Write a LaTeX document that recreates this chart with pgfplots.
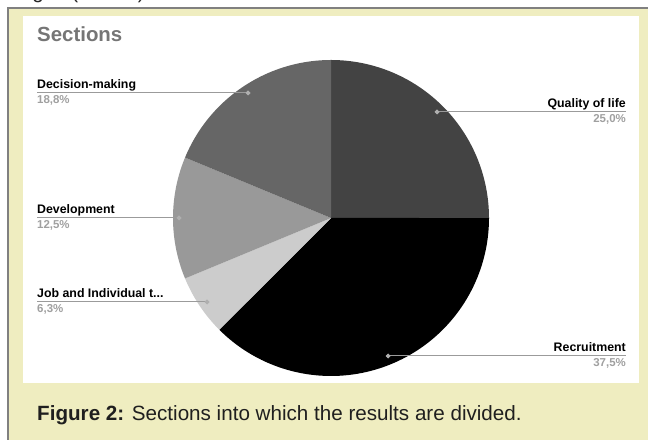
\documentclass[border=0pt]{standalone}
\usepackage{pgfplots}
\pgfplotsset{compat=1.18}
\usepackage{pgfplotstable}
\usepackage{fontspec}
\setmainfont{Liberation Sans}
\definecolor{bgyellow}{RGB}{239,237,192}
\definecolor{bordergray}{RGB}{128,128,128}
\definecolor{cQ}{RGB}{67,67,67}
\definecolor{cR}{RGB}{0,0,0}
\definecolor{cJ}{RGB}{204,204,204}
\definecolor{cD}{RGB}{153,153,153}
\definecolor{cM}{RGB}{102,102,102}
\definecolor{titlegray}{RGB}{117,117,117}
\definecolor{pctgray}{RGB}{160,160,160}
\definecolor{leadgray}{RGB}{155,155,155}
\definecolor{dotgray}{RGB}{175,175,175}
% slice values (percent), clockwise from 12 o'clock
\pgfmathsetmacro\vQ{25}
\pgfmathsetmacro\vR{37.5}
\pgfmathsetmacro\vJ{6.25}
\pgfmathsetmacro\vD{12.5}
\pgfmathsetmacro\vM{18.75}
\pgfmathsetmacro\aA{90}
\pgfmathsetmacro\aB{\aA-3.6*\vQ}
\pgfmathsetmacro\aC{\aB-3.6*\vR}
\pgfmathsetmacro\aD{\aC-3.6*\vJ}
\pgfmathsetmacro\aE{\aD-3.6*\vD}
\pgfmathsetmacro\aF{\aE-3.6*\vM}
\newcommand\lab{\fontsize{12.4}{14}\selectfont\bfseries}
\newcommand\pct{\fontsize{11.5}{14}\selectfont\bfseries\color{pctgray}}
\begin{document}
\begin{tikzpicture}[x=1bp,y=1bp]
\useasboundingbox (0,0) rectangle (648,440);
\fill[white] (0,0) rectangle (648,440);
\begin{scope}
\clip (0,0) rectangle (648,440);
\node[anchor=base east, font=\fontsize{20.7}{24}\selectfont, text=black!85, inner sep=0pt] at (145,441) {ages (0 - 4\%)};
\end{scope}
\fill[bgyellow] (8,0) rectangle (648,432);
\draw[bordergray, line width=1.6bp] (8,0) -- (8,432.2) -- (648,432.2);
\fill[white] (23,57) rectangle (639,424);
\node[anchor=base west, inner sep=0pt, font=\fontsize{20.7}{24}\selectfont, text=black!88] at (37,19) {\textbf{Figure 2:} Sections into which the results are divided.};
\begin{axis}[at={(0,0)}, anchor=south west, scale only axis, width=648bp, height=440bp,
  xmin=0, xmax=648, ymin=0, ymax=440, hide axis, clip=false]
% pie slices (centre 331,222 ; radius 158)
\addplot[draw=none, fill=cQ, domain=\aB:\aA, samples=60, variable=\t] ({331+158*cos(t)},{222+158*sin(t)}) -- (axis cs:331,222) -- cycle;
\addplot[draw=none, fill=cR, domain=\aC:\aB, samples=80, variable=\t] ({331+158*cos(t)},{222+158*sin(t)}) -- (axis cs:331,222) -- cycle;
\addplot[draw=none, fill=cJ, domain=\aD:\aC, samples=20, variable=\t] ({331+158*cos(t)},{222+158*sin(t)}) -- (axis cs:331,222) -- cycle;
\addplot[draw=none, fill=cD, domain=\aE:\aD, samples=40, variable=\t] ({331+158*cos(t)},{222+158*sin(t)}) -- (axis cs:331,222) -- cycle;
\addplot[draw=none, fill=cM, domain=\aF:\aE, samples=50, variable=\t] ({331+158*cos(t)},{222+158*sin(t)}) -- (axis cs:331,222) -- cycle;
% leader lines
\addplot[leadgray, line width=1bp, mark=*, mark size=1.8bp, mark options={draw=dotgray, fill=dotgray}, mark indices={1}] coordinates {(248,347) (37,347)};
\addplot[leadgray, line width=1bp, mark=*, mark size=1.8bp, mark options={draw=dotgray, fill=dotgray}, mark indices={1}] coordinates {(179,222) (37,222)};
\addplot[leadgray, line width=1bp, mark=*, mark size=1.8bp, mark options={draw=dotgray, fill=dotgray}, mark indices={1}] coordinates {(207,138) (37,138)};
\addplot[leadgray, line width=1bp, mark=*, mark size=1.8bp, mark options={draw=dotgray, fill=dotgray}, mark indices={1}] coordinates {(437,328) (626,328)};
\addplot[leadgray, line width=1bp, mark=*, mark size=1.8bp, mark options={draw=dotgray, fill=dotgray}, mark indices={1}] coordinates {(388,84) (626,84)};
% labels
\node[anchor=base west, inner sep=0pt, font=\fontsize{20.5}{24}\selectfont\bfseries, text=titlegray] at (axis cs:37,398) {Sections};
\node[anchor=base west, inner sep=0pt, font=\lab] at (axis cs:37,351) {Decision-making};
\node[anchor=base west, inner sep=0pt, font=\pct] at (axis cs:37,336) {18,8\%};
\node[anchor=base west, inner sep=0pt, font=\lab] at (axis cs:37,226) {Development};
\node[anchor=base west, inner sep=0pt, font=\pct] at (axis cs:37,211) {12,5\%};
\node[anchor=base west, inner sep=0pt, font=\lab] at (axis cs:37,142) {Job and Individual t...};
\node[anchor=base west, inner sep=0pt, font=\pct] at (axis cs:37,127) {6,3\%};
\node[anchor=base east, inner sep=0pt, font=\lab] at (axis cs:626,332) {Quality of life};
\node[anchor=base east, inner sep=0pt, font=\pct] at (axis cs:626,317) {25,0\%};
\node[anchor=base east, inner sep=0pt, font=\lab] at (axis cs:626,88) {Recruitment};
\node[anchor=base east, inner sep=0pt, font=\pct] at (axis cs:626,73) {37,5\%};
\end{axis}
\end{tikzpicture}
\end{document}
